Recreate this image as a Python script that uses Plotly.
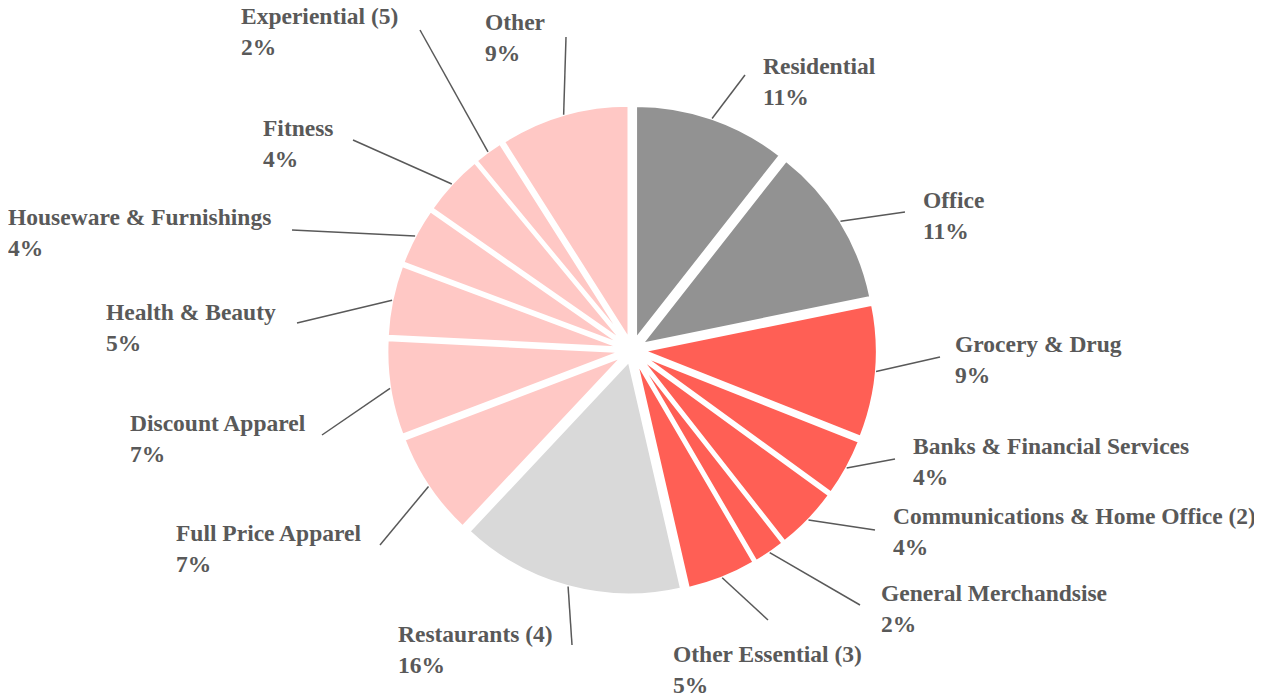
import math
import plotly.graph_objects as go

# ---- data ----
categories = ["Residential", "Office", "Grocery & Drug", "Banks & Financial Services",
              "Communications & Home Office (2)", "General Merchandsise", "Other Essential (3)",
              "Restaurants (4)", "Full Price Apparel", "Discount Apparel", "Health & Beauty",
              "Houseware & Furnishings", "Fitness", "Experiential (5)", "Other"]
values = [10.6, 11.2, 9.2, 4.0, 4.4, 2.2, 4.8, 15.6, 7.2, 6.6, 4.9, 4.0, 4.3, 2.0, 9.0]

# ---- style ----
GRAY, RED, PINK, LGRAY = "#929292", "#FF5F55", "#FFC8C5", "#D9D9D9"
colors = [GRAY, GRAY, RED, RED, RED, RED, RED, LGRAY,
          PINK, PINK, PINK, PINK, PINK, PINK, PINK]
TEXT = "#595959"
W, H = 1262, 694
OFF = 8  # page body margin
CX, CY, R = 632, 350, 245
PULL = 0.05

# label layout (pixel positions): text anchor x, block centre y, anchor side; leader end
label_pos = [(763, 81.5, "left"), (923, 215.5, "left"), (955, 359.5, "left"),
             (913, 461.5, "left"), (893, 531.5, "left"), (881, 608.5, "left"),
             (673, 669.5, "left"), (553, 649.5, "right"), (361, 548.5, "right"),
             (306, 438.5, "right"), (276, 327.5, "right"), (271, 232.5, "right"),
             (334, 143.5, "right"), (398, 31.5, "right"), (545, 37.5, "right")]
leader_end = [(745, 75), (905, 212), (940, 357), (895, 459), (875, 530), (860, 605),
              (768, 620), (572, 645), (380, 545), (322, 435), (297, 323), (292, 230),
              (353, 140), (420, 30), (566, 37)]

def px(x):
    return (x - OFF) / W

def py(y):
    return 1 - (y - OFF) / H

fig = go.Figure(go.Pie(
    labels=categories, values=values, sort=False, direction="clockwise", rotation=0,
    marker=dict(colors=colors, line=dict(color="white", width=2.5)),
    pull=[PULL] * len(values), textinfo="none", hoverinfo="label+percent",
    domain=dict(x=[px(CX - R), px(CX + R)], y=[py(CY + R), py(CY - R)]),
    showlegend=False,
))

total = sum(values)
cum = 0.0
shapes, annotations = [], []
for name, v, (tx, ty, side), (ex, ey) in zip(categories, values, label_pos, leader_end):
    mid = (cum + v / 2) / total
    cum += v
    th = 2 * math.pi * mid
    sx, sy = CX + R * math.sin(th), CY - R * math.cos(th)
    shapes.append(dict(type="line", xref="paper", yref="paper",
                       x0=px(sx), y0=py(sy), x1=px(ex), y1=py(ey),
                       line=dict(color=TEXT, width=1.5)))
    pct = round(v / total * 100)
    annotations.append(dict(text=f"{name}<br>{pct}%", xref="paper", yref="paper",
                            x=px(tx - 2 if side == "left" else tx + 2), y=py(ty),
                            xanchor=side, yanchor="middle",
                            align="left", showarrow=False,
                            font=dict(family="Liberation Serif", size=23.5, color=TEXT,
                                      weight="bold")))

fig.update_layout(width=W, height=H, margin=dict(l=0, r=0, t=0, b=0),
                  paper_bgcolor="white", plot_bgcolor="white",
                  shapes=shapes, annotations=annotations)
fig.write_html("out.html")
